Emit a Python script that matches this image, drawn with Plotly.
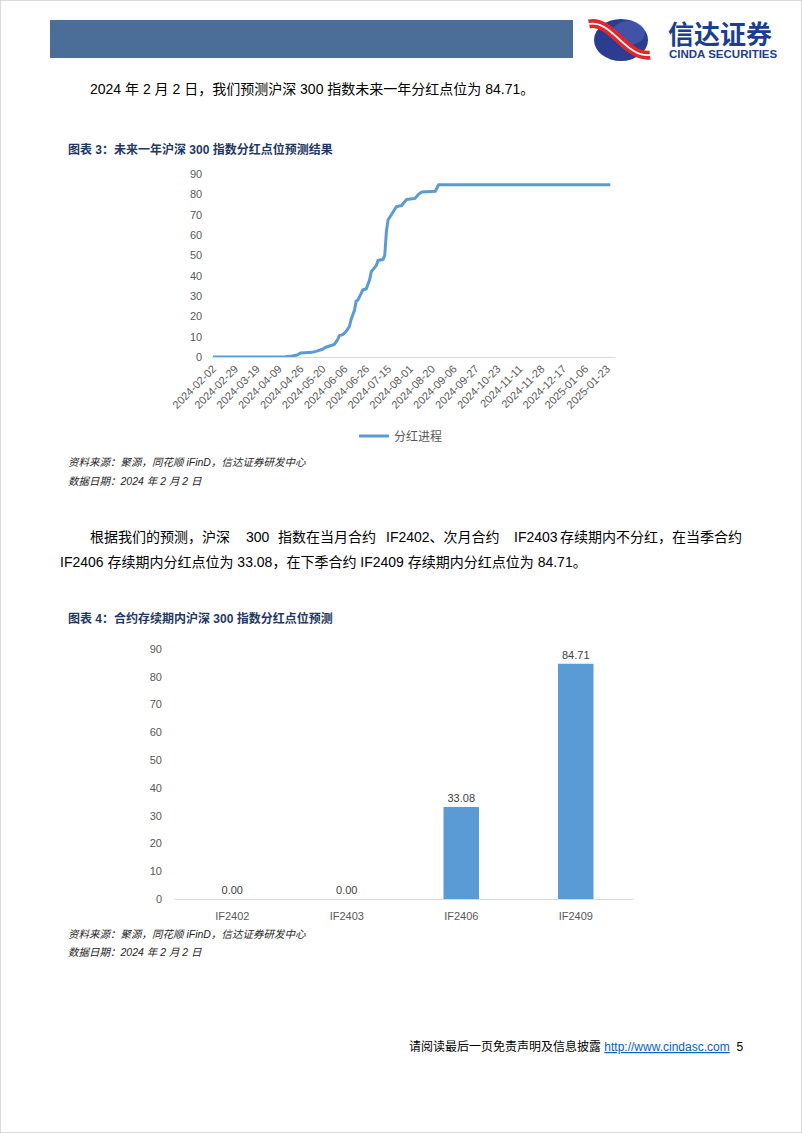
import plotly.graph_objects as go

W, H = 802, 1133

# ---------------- data ----------------
date_labels = ["2024-02-02", "2024-02-29", "2024-03-19", "2024-04-09", "2024-04-26",
               "2024-05-20", "2024-06-06", "2024-06-26", "2024-07-15", "2024-08-01",
               "2024-08-20", "2024-09-06", "2024-09-27", "2024-10-23", "2024-11-11",
               "2024-11-28", "2024-12-17", "2025-01-06", "2025-01-23"]
date_label_day = [0, 13, 26, 39, 52, 65, 78, 91, 104, 117, 130, 143, 156, 169, 182,
                  195, 208, 221, 234]

# trading-day index (from 2024-02-02) and cumulative dividend points
progress_day = [0, 43, 47, 50, 52, 59, 62, 65, 67, 69, 72, 74, 75, 77, 79, 81, 82, 84,
                85, 86, 88, 89, 91, 93, 94, 96, 97, 98, 101, 102, 103, 104, 106, 108,
                109, 112, 113, 115, 120, 122, 124, 132, 134, 236]
progress_value = [0, 0.1, 0.5, 1.0, 2.0, 2.3, 3.0, 3.8, 4.8, 5.5, 6.2, 8.5, 10.5, 11.0,
                  12.5, 15.0, 18.5, 23.0, 27.5, 28.0, 31.5, 33.08, 33.5, 38.0, 42.0,
                  44.0, 45.0, 47.5, 48.0, 50.0, 62.0, 67.5, 70.0, 72.5, 74.0, 74.5,
                  75.5, 77.5, 78.0, 80.0, 81.2, 81.5, 84.71, 84.71]
series_name = "分红进程"

contracts = ["IF2402", "IF2403", "IF2406", "IF2409"]
contract_points = [0.00, 0.00, 33.08, 84.71]

y_ticks = [0, 10, 20, 30, 40, 50, 60, 70, 80, 90]

# ---------------- helpers ----------------
BODY = "Liberation Sans, Arial, Noto Sans CJK SC, sans-serif"
BLUE = "#5B9BD5"
GREY = "#595959"


def px(x):
    return x / W


def py(y):
    return 1 - y / H


def pt(x, y):
    return f"{px(x):.5f},{py(y):.5f}"


annotations = []


def txt(s, x, y, size, color="#000000", anchor="left", family=BODY):
    annotations.append(dict(text=s, x=px(x), y=py(y), xref="paper", yref="paper",
                            xanchor=anchor, yanchor="middle", showarrow=False,
                            font=dict(size=size, color=color, family=family)))


fig = go.Figure()

fig.add_trace(go.Scatter(x=progress_day, y=progress_value, mode="lines",
                         line=dict(color=BLUE, width=3), name=series_name,
                         xaxis="x", yaxis="y", hoverinfo="skip"))

fig.add_trace(go.Bar(x=contracts, y=contract_points, marker=dict(color=BLUE, line=dict(width=0)),
                     text=[f"{v:.2f}" for v in contract_points], textposition="outside",
                     textfont=dict(size=11, color="#404040", family=BODY),
                     cliponaxis=False, showlegend=False, width=0.31,
                     xaxis="x2", yaxis="y2", hoverinfo="skip"))

axis_common = dict(showgrid=False, zeroline=False, ticks="", automargin=False,
                   tickfont=dict(size=11, color=GREY, family=BODY))

fig.update_layout(
    template="none",
    width=W, height=H, autosize=False,
    margin=dict(l=0, r=0, t=0, b=0, pad=0, autoexpand=False),
    paper_bgcolor="white", plot_bgcolor="white",
    showlegend=True,
    legend=dict(orientation="h", x=0.5, xanchor="center", y=py(436), yanchor="middle",
                font=dict(size=12, color=GREY, family=BODY), bgcolor="rgba(0,0,0,0)"),
    xaxis=dict(domain=[px(212.2), px(615.4)], range=[-0.5, 239], anchor="y",
               tickmode="array", tickvals=date_label_day, ticktext=date_labels,
               tickangle=-45, showline=True, linecolor="#D9D9D9", linewidth=1,
               **axis_common),
    yaxis=dict(domain=[py(357), py(174)], range=[0, 90], anchor="x",
               tickmode="array", tickvals=y_ticks, showline=False,
               ticklabelstandoff=9, **axis_common),
    xaxis2=dict(domain=[px(175), px(633)], range=[-0.5, 3.5], anchor="y2",
                type="category", showline=True, linecolor="#D9D9D9", linewidth=1,
                ticklabelstandoff=7, **axis_common),
    yaxis2=dict(domain=[py(899), py(649)], range=[0, 90], anchor="x2",
                tickmode="array", tickvals=y_ticks, showline=False,
                ticklabelstandoff=12, **axis_common),
)

# ---------------- page decoration ----------------
shapes = [
    dict(type="rect", xref="paper", yref="paper", x0=0, x1=1, y0=0, y1=1,
         line=dict(color="#B5B5B5", width=1), fillcolor="rgba(0,0,0,0)"),
    dict(type="rect", xref="paper", yref="paper", x0=px(50), x1=px(573),
         y0=py(58), y1=py(20), line=dict(width=0), fillcolor="#4B6E98"),
    dict(type="circle", xref="paper", yref="paper", x0=px(594), x1=px(648),
         y0=py(61), y1=py(19), line=dict(width=0), fillcolor="#2C3C8E"),
    dict(type="circle", xref="paper", yref="paper", x0=px(612), x1=px(645),
         y0=py(45), y1=py(21), line=dict(width=0), fillcolor="rgba(90,110,190,0.45)"),
    dict(type="path", xref="paper", yref="paper",
         path=f"M {pt(589,24)} C {pt(611,19)} {pt(626,58)} {pt(650,55)}",
         line=dict(color="#E2262C", width=9)),
    dict(type="path", xref="paper", yref="paper",
         path=f"M {pt(589,24)} C {pt(611,19)} {pt(626,58)} {pt(650,55)}",
         line=dict(color="white", width=1.8)),
]
fig.update_layout(shapes=shapes)

txt("<b>信达证券</b>", 666, 35, 26, color="#1B3E8E")
txt("<b>CINDA SECURITIES</b>", 667, 54, 11.5, color="#1B3E8E")

txt("2024 年 2 月 2 日，我们预测沪深 300 指数未来一年分红点位为 84.71。", 88, 89, 14)

TITLE = "#1F3864"
txt("<b>图表 3：未来一年沪深 300 指数分红点位预测结果</b>", 66, 150, 12, color=TITLE)
txt("<i>资料来源：聚源，同花顺 iFinD，信达证券研发中心</i>", 66, 462, 10.5, color="#262626")
txt("<i>数据日期：2024 年 2 月 2 日</i>", 66, 481, 10.5, color="#262626")

# justified first paragraph line, placed word group by word group
txt("根据我们的预测，沪深", 88, 537, 14)
txt("300", 244, 537, 14)
txt("指数在当月合约", 276, 537, 14)
txt("IF2402、次月合约", 384, 537, 14)
txt("IF2403", 512, 537, 14)
txt("存续期内不分红，在当季合约", 744, 537, 14, anchor="right")
txt("IF2406 存续期内分红点位为 33.08，在下季合约 IF2409 存续期内分红点位为 84.71。", 58, 562, 14)

txt("<b>图表 4：合约存续期内沪深 300 指数分红点位预测</b>", 66, 618, 12, color=TITLE)
txt("<i>资料来源：聚源，同花顺 iFinD，信达证券研发中心</i>", 66, 934, 10.5, color="#262626")
txt("<i>数据日期：2024 年 2 月 2 日</i>", 66, 952, 10.5, color="#262626")

txt("请阅读最后一页免责声明及信息披露 "
    "<span style='color:#0563C1'><u>http://www.cindasc.com</u></span>  5",
    745, 1046, 12, anchor="right")

fig.update_layout(annotations=annotations)

fig.write_html("out.html")
